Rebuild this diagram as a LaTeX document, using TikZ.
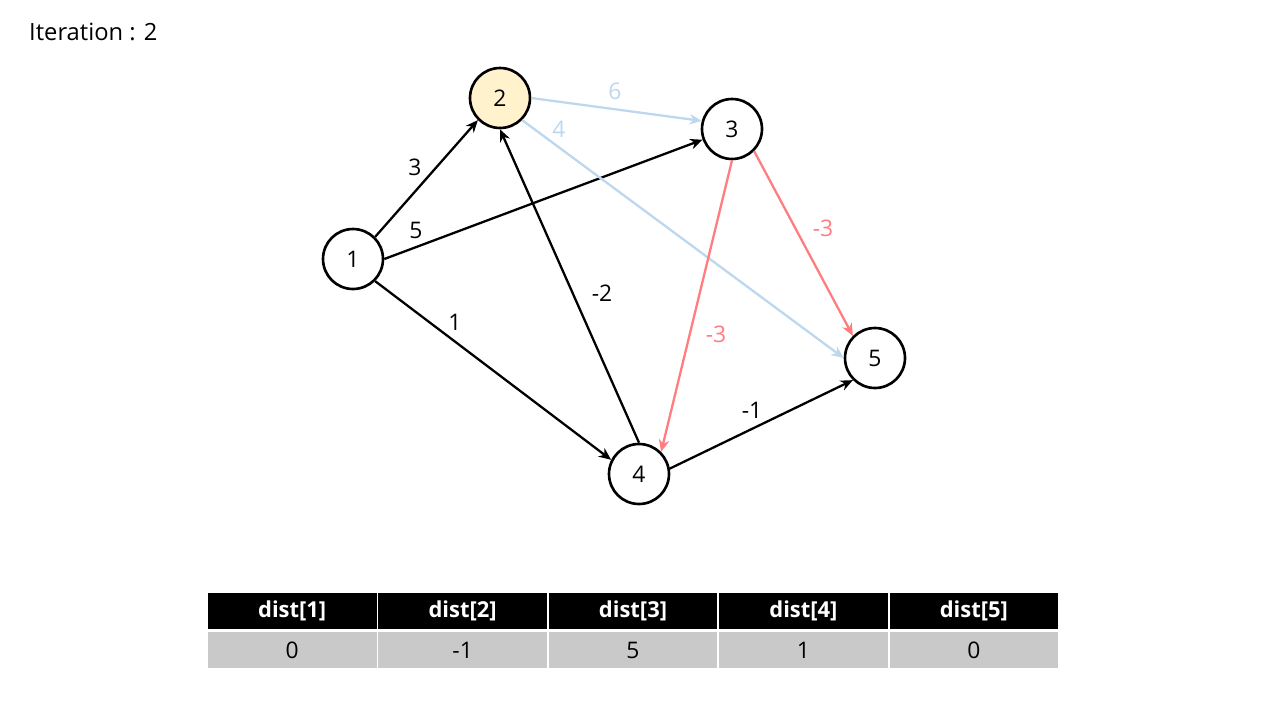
\documentclass[tikz,border=0pt]{standalone}
\usepackage{fontspec}
\setmainfont{Open Sans}
\usetikzlibrary{arrows.meta}

\definecolor{visited}{HTML}{FFF2CC}
\definecolor{relaxed}{HTML}{BDD7EE}
\definecolor{checking}{HTML}{FF7C80}
\definecolor{cellgray}{HTML}{C9C9C9}

\tikzset{
  vertex/.style = {circle, draw, line width=1.5pt, minimum size=1.2cm, inner sep=0pt, font=\fontsize{13}{15}\selectfont},
  edge/.style = {line width=1.3pt, -{Stealth[length=7pt,width=6pt]}},
  wlabel/.style = {font=\fontsize{13}{15}\selectfont},
  headcell/.style = {rectangle, fill=black, draw=white, line width=1pt, text=white, font=\fontsize{12.5}{15}\selectfont\bfseries, minimum width=3.408cm, minimum height=0.76cm, inner sep=0pt},
  valcell/.style = {rectangle, fill=cellgray, draw=white, line width=1pt, font=\fontsize{13}{15}\selectfont, minimum width=3.408cm, minimum height=0.76cm, inner sep=0pt}
}

\begin{document}
\begin{tikzpicture}[x=0.02cm, y=-0.02cm]
\useasboundingbox (0,0) rectangle (1280,720);

\node[anchor=west, font=\fontsize{13.5}{16}\selectfont] (title) at (23,32) {Iteration : 2};

% vertices
\node[vertex] (n1) at (353,259) {1};
\node[vertex, fill=visited] (n2) at (500,98) {2};
\node[vertex] (n3) at (732,129) {3};
\node[vertex] (n4) at (639,474) {4};
\node[vertex] (n5) at (875,358) {5};

% edges
\draw[edge] (n1.45) -- (n2.225) node[wlabel] (w12) at (415,167) {3};
\draw[edge] (n1.east) -- (n3.200) node[wlabel] (w13) at (416,230) {5};
\draw[edge] (n1.315) -- (n4.153) node[wlabel] (w14) at (455,322) {1};
\draw[edge] (n4.north) -- (n2.south) node[wlabel] (w42) at (602,293) {-2};
\draw[edge] (n4.10) -- (n5.225) node[wlabel] (w45) at (752,410) {-1};
\draw[edge, relaxed] (n2.east) -- (n3.165) node[wlabel] (w23) at (615,91) {6};
\draw[edge, relaxed] (n2.315) -- (n5.west) node[wlabel] (w25) at (559,129) {4};
\draw[edge, checking] (n3.south) -- (n4.45) node[wlabel] (w34) at (716,334) {-3};
\draw[edge, checking] (n3.315) -- (n5.135) node[wlabel] (w35) at (823,228) {-3};

% dist table
\foreach \i/\v in {1/0, 2/-1, 3/5, 4/1, 5/0} {
  \node[headcell] (h\i) at ({207+170.4*(\i-0.5)},611) {dist[\i]};
  \node[valcell] (d\i) at ({207+170.4*(\i-0.5)},650) {\v};
}
\end{tikzpicture}
\end{document}
